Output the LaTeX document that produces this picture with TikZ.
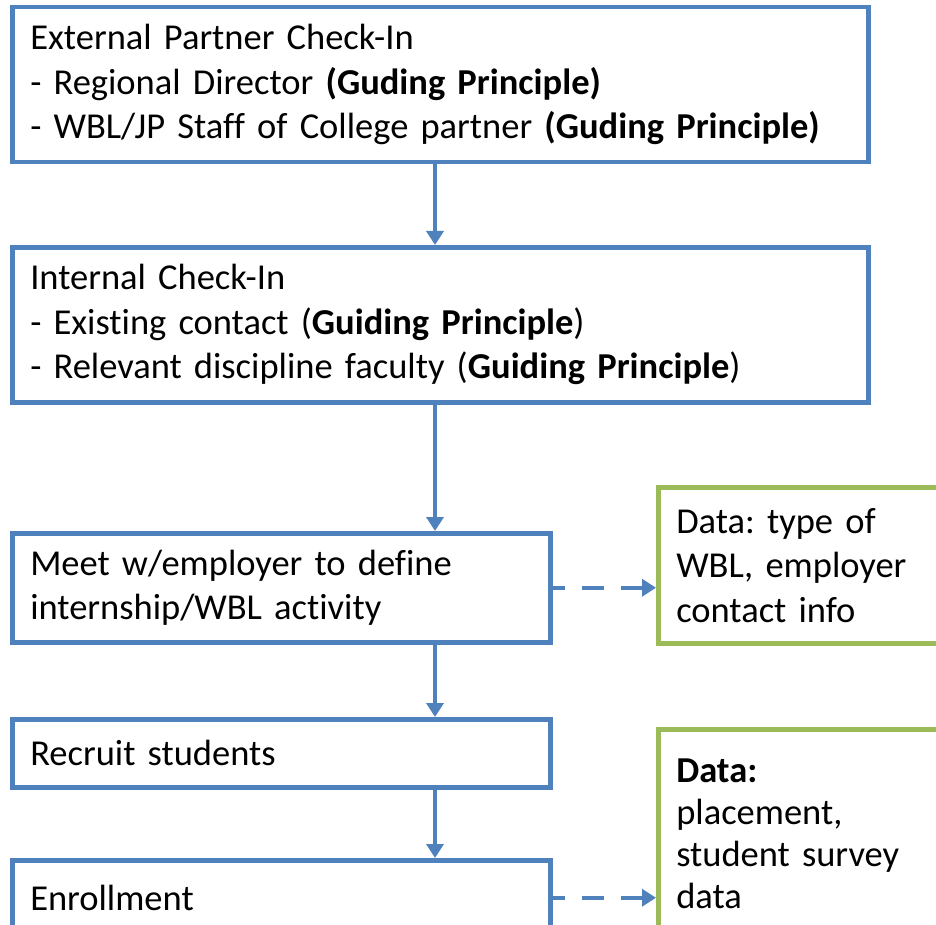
\documentclass[tikz,border=0pt]{standalone}
\usepackage{fontspec}
\setmainfont{Carlito}[Ligatures=NoCommon]
\frenchspacing
\usetikzlibrary{arrows.meta}
\definecolor{stepblue}{HTML}{4F81BD}
\definecolor{datagreen}{HTML}{9BBB59}
\tikzset{
  stepbox/.style={shape=rectangle, draw=stepblue, line width=4.5pt, anchor=north west, align=left, inner xsep=18pt, inner ysep=0pt, font=\fontsize{36.5}{44.5}\selectfont},
  databox/.style={stepbox, draw=datagreen},
  flow/.style={draw=stepblue, line width=4.5pt, -{Triangle[length=14pt, width=17pt]}},
  dataflow/.style={flow, dash pattern=on 22pt off 17pt, dash phase=10pt}
}
\begin{document}
\begin{tikzpicture}[x=1pt, y=-1pt]
          \useasboundingbox (0,0) rectangle (936,925);
          \clip (0,0) rectangle (936,925);
          % Paths, nodes and wires:
          \node[stepbox, text width=820pt, minimum height=155pt] (external) at (10, 5){External Partner Check-In\\- Regional Director \textbf{(Guding Principle)}\\- WBL/JP Staff of College partner \textbf{(Guding Principle)}};
          \node[stepbox, text width=820pt, minimum height=155pt] (internal) at (10, 245){Internal Check-In\\- Existing contact (\textbf{Guiding Principle})\\- Relevant discipline faculty (\textbf{Guiding Principle})};
          \node[stepbox, text width=502pt, minimum height=109pt] (meet) at (10, 531){Meet w/employer to define\\internship/WBL activity};
          \node[stepbox, text width=502pt, minimum height=68pt] (recruit) at (10, 717){Recruit students};
          \node[stepbox, text width=502pt, minimum height=75pt] (enroll) at (10, 858){Enrollment};
          \node[databox, text width=264pt, minimum height=156pt] (wbldata) at (656, 485){Data: type of\\WBL, employer\\contact info};
          \node[databox, text width=264pt, minimum height=210pt, font=\fontsize{36.5}{42}\selectfont] (surveydata) at (656, 727){\textbf{Data:}\\placement,\\student survey\\data};
          \coordinate (spine) at (435, 0);
          \draw[flow] (external.south -| spine) -- (internal.north -| spine);
          \draw[flow] (internal.south -| spine) -- (meet.north -| spine);
          \draw[flow] (meet.south -| spine) -- (recruit.north -| spine);
          \draw[flow] (recruit.south -| spine) -- (enroll.north -| spine);
          \draw[dataflow] (meet.east) -- (wbldata.west |- meet.east);
          \draw[dataflow] (enroll.east) -- (surveydata.west |- enroll.east);
        \end{tikzpicture}
\end{document}
